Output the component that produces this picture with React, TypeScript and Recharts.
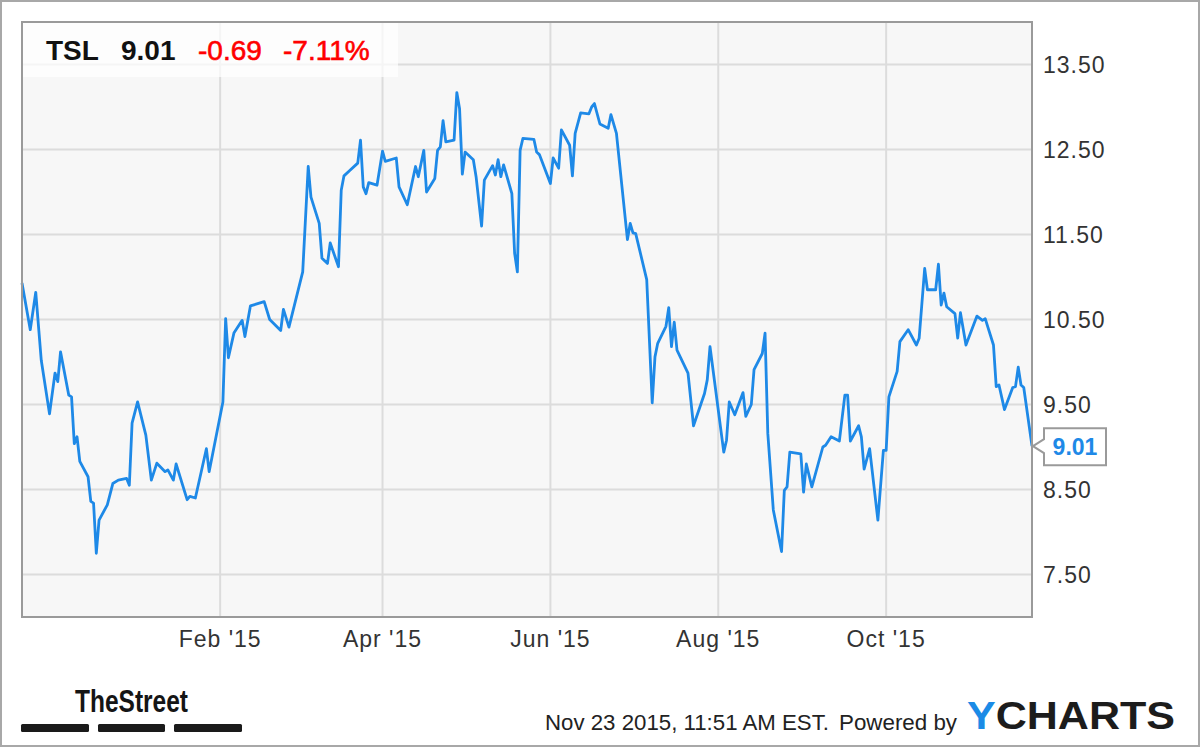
import React from 'react';
import { LineChart, Line, XAxis, YAxis, CartesianGrid, ReferenceDot } from 'recharts';

const dates = [
  '2014-11-21','2014-11-24','2014-11-26','2014-11-28','2014-12-01','2014-12-03','2014-12-04','2014-12-05',
  '2014-12-08','2014-12-09','2014-12-10','2014-12-11','2014-12-12','2014-12-15','2014-12-16','2014-12-17',
  '2014-12-18','2014-12-19','2014-12-22','2014-12-24','2014-12-26','2014-12-29','2014-12-30','2014-12-31',
  '2015-01-02','2015-01-05','2015-01-07','2015-01-09','2015-01-12','2015-01-13','2015-01-15','2015-01-16',
  '2015-01-20','2015-01-21','2015-01-23','2015-01-27','2015-01-28','2015-02-02','2015-02-03','2015-02-04',
  '2015-02-06','2015-02-09','2015-02-10','2015-02-12','2015-02-17','2015-02-19','2015-02-23','2015-02-24',
  '2015-02-26','2015-03-03','2015-03-05','2015-03-06','2015-03-09','2015-03-10','2015-03-12','2015-03-13',
  '2015-03-16','2015-03-17','2015-03-18','2015-03-20','2015-03-23','2015-03-24','2015-03-25','2015-03-26',
  '2015-03-27','2015-03-30','2015-04-01','2015-04-02','2015-04-06','2015-04-07','2015-04-10','2015-04-13',
  '2015-04-14','2015-04-16','2015-04-17','2015-04-20','2015-04-21','2015-04-22','2015-04-23','2015-04-24',
  '2015-04-27','2015-04-28','2015-04-29','2015-04-30','2015-05-01','2015-05-04','2015-05-05','2015-05-07',
  '2015-05-08','2015-05-11','2015-05-12','2015-05-13','2015-05-14','2015-05-15','2015-05-18','2015-05-19',
  '2015-05-20','2015-05-21','2015-05-22','2015-05-26','2015-05-27','2015-05-28','2015-06-01','2015-06-02',
  '2015-06-04','2015-06-05','2015-06-08','2015-06-09','2015-06-10','2015-06-12','2015-06-15','2015-06-16',
  '2015-06-17','2015-06-19','2015-06-22','2015-06-23','2015-06-25','2015-06-29','2015-06-30','2015-07-01',
  '2015-07-02','2015-07-06','2015-07-08','2015-07-09','2015-07-10','2015-07-13','2015-07-14','2015-07-15',
  '2015-07-16','2015-07-17','2015-07-21','2015-07-23','2015-07-27','2015-07-28','2015-07-29','2015-08-03',
  '2015-08-04','2015-08-05','2015-08-07','2015-08-10','2015-08-11','2015-08-13','2015-08-14','2015-08-17',
  '2015-08-18','2015-08-19','2015-08-21','2015-08-24','2015-08-25','2015-08-26','2015-08-27','2015-08-31',
  '2015-09-01','2015-09-02','2015-09-04','2015-09-08','2015-09-09','2015-09-11','2015-09-14','2015-09-16',
  '2015-09-17','2015-09-18','2015-09-21','2015-09-22','2015-09-23','2015-09-25','2015-09-28','2015-09-30',
  '2015-10-01','2015-10-02','2015-10-05','2015-10-06','2015-10-09','2015-10-12','2015-10-13','2015-10-15',
  '2015-10-16','2015-10-19','2015-10-20','2015-10-21','2015-10-22','2015-10-23','2015-10-26','2015-10-27',
  '2015-10-28','2015-10-30','2015-11-03','2015-11-05','2015-11-06','2015-11-09','2015-11-10','2015-11-11',
  '2015-11-13','2015-11-16','2015-11-17','2015-11-18','2015-11-19','2015-11-20','2015-11-23',
];

const prices = [
  10.93, 10.38, 10.82, 10.02, 9.39, 9.87, 9.77, 10.12,
  9.61, 9.59, 9.04, 9.12, 8.83, 8.65, 8.36, 8.34,
  7.75, 8.14, 8.32, 8.57, 8.61, 8.63, 8.55, 9.28,
  9.53, 9.14, 8.61, 8.81, 8.71, 8.73, 8.61, 8.80,
  8.38, 8.42, 8.40, 8.98, 8.71, 9.53, 10.51, 10.05,
  10.34, 10.49, 10.30, 10.66, 10.71, 10.50, 10.37, 10.62,
  10.41, 11.06, 12.30, 11.94, 11.63, 11.22, 11.16, 11.40,
  11.12, 12.02, 12.19, 12.25, 12.34, 12.61, 12.06, 11.98,
  12.11, 12.08, 12.48, 12.36, 12.40, 12.06, 11.85, 12.30,
  12.18, 12.49, 12.00, 12.16, 12.49, 12.53, 12.84, 12.59,
  12.61, 13.17, 12.98, 12.21, 12.47, 12.38, 12.18, 11.60,
  12.14, 12.31, 12.20, 12.38, 12.18, 12.32, 11.98, 11.28,
  11.06, 12.49, 12.63, 12.62, 12.47, 12.44, 12.10, 12.40,
  12.28, 12.73, 12.55, 12.19, 12.69, 12.93, 12.92, 13.00,
  13.04, 12.80, 12.75, 12.91, 12.69, 11.44, 11.63, 11.52,
  11.51, 10.97, 9.52, 10.06, 10.22, 10.42, 10.64, 10.18,
  10.47, 10.14, 9.87, 9.25, 9.63, 9.79, 10.18, 8.94,
  9.08, 9.53, 9.38, 9.64, 9.36, 9.50, 9.91, 10.10,
  10.34, 9.16, 8.26, 7.77, 8.49, 8.53, 8.94, 8.92,
  8.47, 8.80, 8.53, 9.00, 9.02, 9.12, 9.07, 9.61,
  9.61, 9.07, 9.25, 9.12, 8.74, 8.98, 8.14, 8.96,
  8.96, 9.59, 9.89, 10.24, 10.38, 10.20, 10.28, 11.10,
  10.85, 10.85, 11.15, 10.67, 10.81, 10.65, 10.57, 10.28,
  10.58, 10.20, 10.54, 10.49, 10.51, 10.20, 9.71, 9.73,
  9.44, 9.70, 9.71, 9.94, 9.73, 9.70, 9.01,
];

const xTickDates = ['2015-02-01', '2015-04-01', '2015-06-01', '2015-08-01', '2015-10-01'];
const xTickLabels = ["Feb '15", "Apr '15", "Jun '15", "Aug '15", "Oct '15"];
const yTicks = [7.5, 8.5, 9.5, 10.5, 11.5, 12.5, 13.5];
const yDomain = [7, 14];

const ticker = 'TSL';
const lastPrice = '9.01';
const change = '-0.69';
const changePct = '-7.11%';
const timestamp = 'Nov 23 2015, 11:51 AM EST.';
const poweredBy = 'Powered by';

const toTime = (s: string) => Date.parse(s + 'T00:00:00Z');
const data = dates.map((d, i) => ({ t: toTime(d), price: prices[i] }));
const xTicks = xTickDates.map(toTime);
const last = data[data.length - 1];

const FONT = '"Liberation Sans", Arial, Helvetica, sans-serif';
const NARROW = '"Liberation Sans Narrow", "Arial Narrow", "Liberation Sans", Arial, sans-serif';
const BLUE = '#1e89e7';

const Badge = (props: any) => {
  const { cx, cy } = props;
  if (cx == null || cy == null) return null;
  const x = cx + 1;
  const d = `M ${x} ${cy} L ${x + 11} ${cy - 7} L ${x + 11} ${cy - 18} L ${x + 73} ${cy - 18} L ${x + 73} ${cy + 19} L ${x + 11} ${cy + 19} L ${x + 11} ${cy + 7} Z`;
  return (
    <g>
      <path d={d} fill="#fff" stroke="#9a9a9a" strokeWidth={2} />
      <text x={x + 42} y={cy + 9} textAnchor="middle" fontFamily={FONT} fontWeight="bold" fontSize={23} fill={BLUE}>
        {lastPrice}
      </text>
    </g>
  );
};

export default function App() {
  return (
    <div style={{ position: 'absolute', left: 0, top: 0, width: 1200, height: 747, background: '#fff', fontFamily: FONT }}>
      <LineChart width={1200} height={747} data={data} margin={{ top: 22, left: 22, right: 0, bottom: 0 }}>
        <CartesianGrid fill="#f7f7f7" stroke="#dcdcdc" strokeWidth={2} />
        <XAxis
          dataKey="t"
          type="number"
          scale="time"
          domain={['dataMin', 'dataMax']}
          ticks={xTicks}
          tickFormatter={(v: number) => {
            const i = xTicks.indexOf(v);
            return i >= 0 ? xTickLabels[i] : '';
          }}
          height={130}
          axisLine={{ stroke: '#9a9a9a', strokeWidth: 2 }}
          tickLine={false}
          tickSize={0}
          tickMargin={14}
          tick={{ fontSize: 23, fill: '#333', fontFamily: FONT, letterSpacing: 1 }}
          interval={0}
        />
        <YAxis
          orientation="right"
          type="number"
          domain={yDomain}
          ticks={yTicks}
          tickFormatter={(v: number) => v.toFixed(2)}
          width={168}
          axisLine={{ stroke: '#9a9a9a', strokeWidth: 2 }}
          tickLine={false}
          tickSize={0}
          tickMargin={11}
          tick={{ fontSize: 23, fill: '#333', fontFamily: FONT, letterSpacing: 1 }}
          interval={0}
          allowDataOverflow
        />
        <Line
          type="linear"
          dataKey="price"
          stroke={BLUE}
          strokeWidth={2.8}
          strokeLinejoin="round"
          dot={false}
          activeDot={false}
          isAnimationActive={false}
        />
        <ReferenceDot x={last.t} y={last.price} ifOverflow="visible" shape={(p: any) => <Badge {...p} />} />
      </LineChart>
      <svg width={1200} height={747} style={{ position: 'absolute', left: 0, top: 0, pointerEvents: 'none' }}>
        <rect x={23} y={23} width={375} height={54} fill="#ffffff" fillOpacity={0.7} />
        <rect x={22} y={22} width={1010} height={595} fill="none" stroke="#9a9a9a" strokeWidth={2} />
        <text x={46} y={60} fontFamily={FONT} fontWeight="bold" fontSize={28} fill="#111">{ticker}</text>
        <text x={121} y={60} fontFamily={FONT} fontWeight="bold" fontSize={28} fill="#111">{lastPrice}</text>
        <text x={198} y={60} fontFamily={FONT} fontSize={28} fill="#ff0000" stroke="#ff0000" strokeWidth={0.6}>{change}</text>
        <text x={283} y={60} fontFamily={FONT} fontSize={28} fill="#ff0000" stroke="#ff0000" strokeWidth={0.6}>{changePct}</text>

        <text x={75} y={712} fontFamily={NARROW} fontWeight="bold" fontSize={32} fill="#151515" textLength={113} lengthAdjust="spacingAndGlyphs">TheStreet</text>
        <rect x={21} y={724} width={68} height={8} rx={1.5} fill="#1a1a1a" />
        <rect x={98} y={724} width={67} height={8} rx={1.5} fill="#1a1a1a" />
        <rect x={174} y={724} width={68} height={8} rx={1.5} fill="#1a1a1a" />

        <text x={545} y={730} fontFamily={NARROW} fontSize={21.5} fill="#222" textLength={284} lengthAdjust="spacingAndGlyphs">{timestamp}</text>
        <text x={839} y={730} fontFamily={NARROW} fontSize={21.5} fill="#222" textLength={118} lengthAdjust="spacingAndGlyphs">{poweredBy}</text>
        <text x={967} y={729} fontFamily={FONT} fontWeight="bold" fontSize={38} textLength={208} lengthAdjust="spacingAndGlyphs">
          <tspan fill="#1b8be6">Y</tspan>
          <tspan fill="#1c1c1c">CHARTS</tspan>
        </text>

        <rect x={1} y={1} width={1198} height={745} fill="none" stroke="#a8a8a8" strokeWidth={2} />
      </svg>
    </div>
  );
}
